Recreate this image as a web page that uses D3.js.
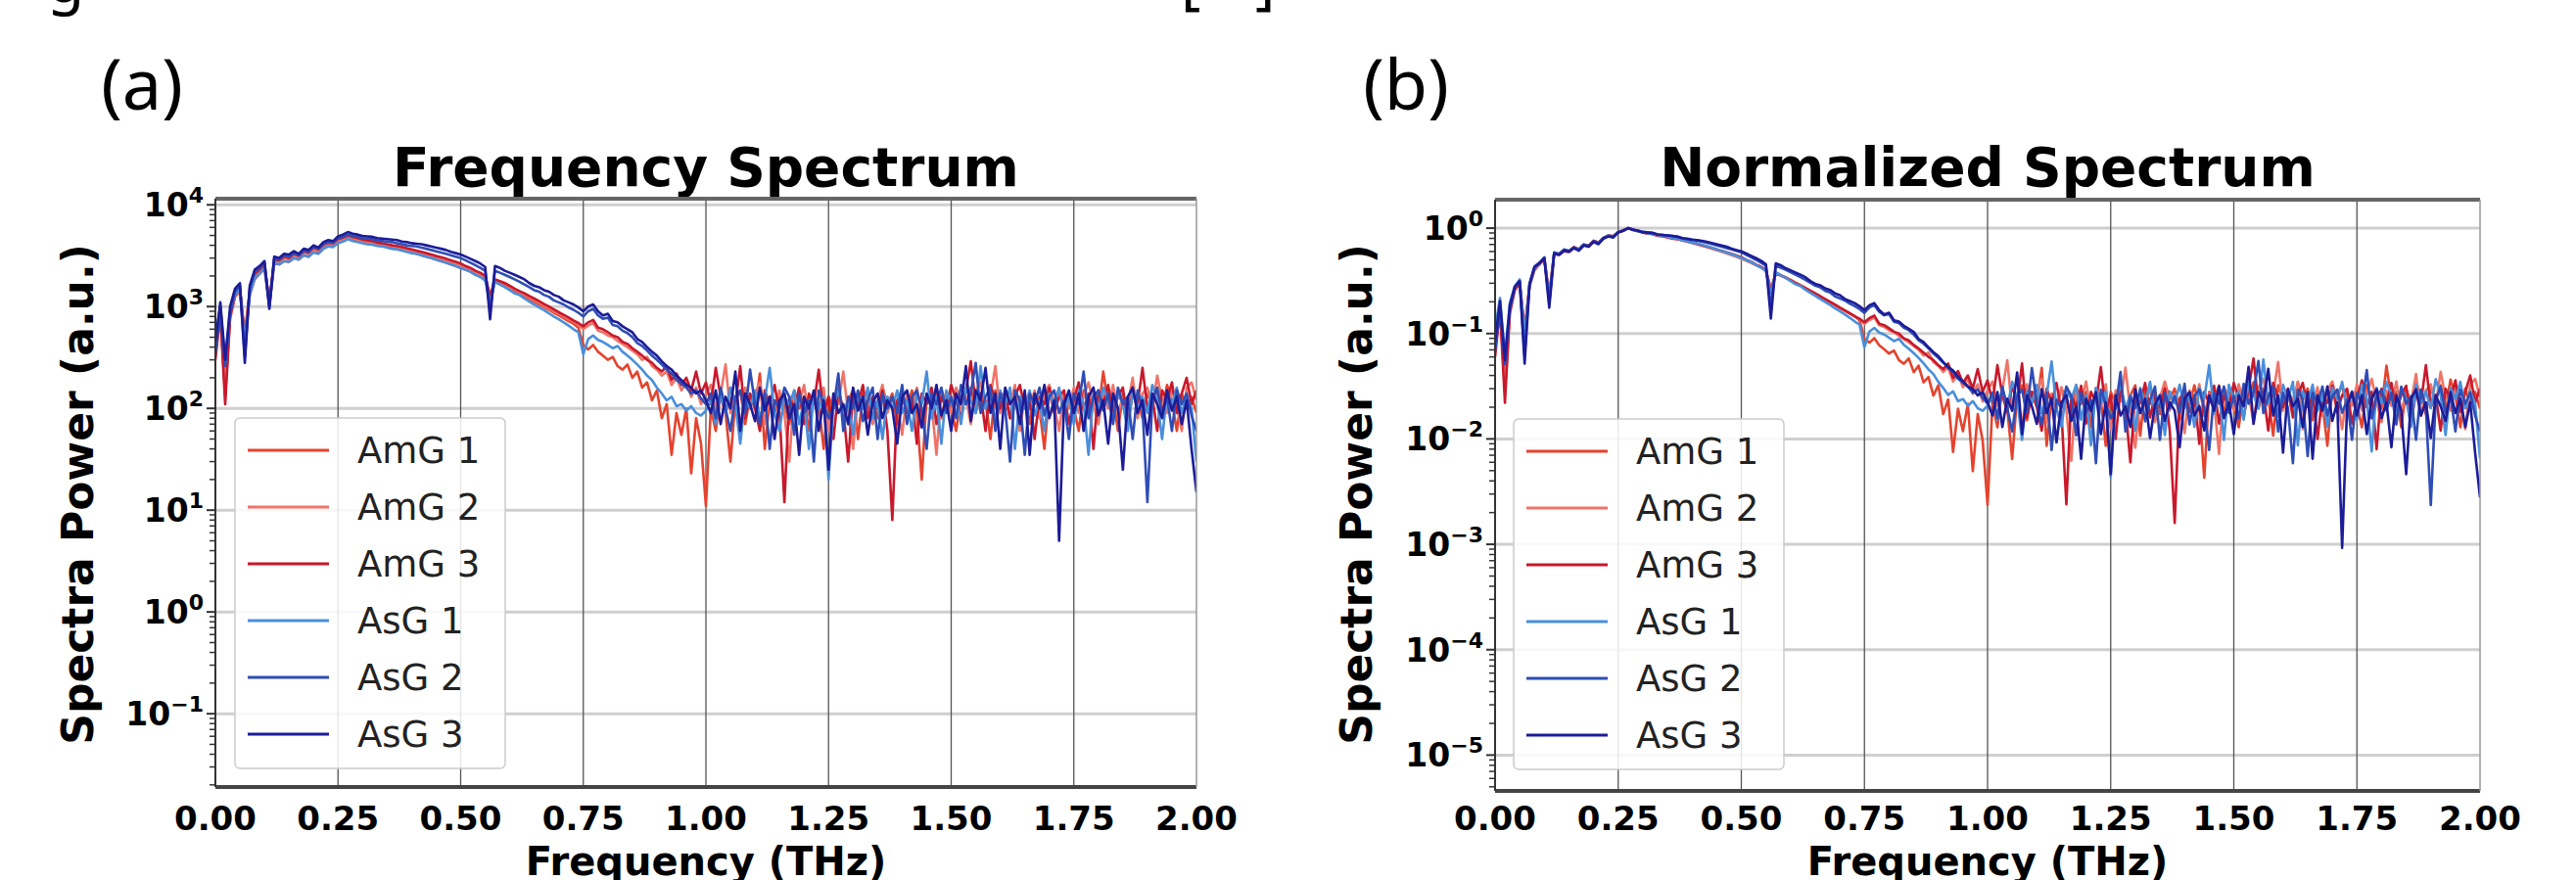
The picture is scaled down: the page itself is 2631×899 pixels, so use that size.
<!DOCTYPE html>
<html>
<head>
<meta charset="utf-8">
<script src="https://cdn.jsdelivr.net/npm/d3@7"></script>
<style>
  body { margin: 0; background: #fff; }
  svg { display: block; font-family: "DejaVu Sans", sans-serif; }
</style>
</head>
<body>
<div id="container"></div>
<script>
// sampling grid (THz)
const freq = [
  0, 0.01, 0.02, 0.03, 0.04, 0.05, 0.06, 0.07, 0.08, 0.09, 0.10,
  0.11, 0.12, 0.13, 0.14, 0.15, 0.16, 0.17, 0.18, 0.19, 0.20,
  0.21, 0.22, 0.23, 0.24, 0.25, 0.26, 0.27, 0.28, 0.29, 0.30,
  0.31, 0.32, 0.33, 0.34, 0.35, 0.36, 0.37, 0.38, 0.39, 0.40,
  0.41, 0.42, 0.43, 0.44, 0.45, 0.46, 0.47, 0.48, 0.49, 0.50,
  0.51, 0.52, 0.53, 0.54, 0.55, 0.56, 0.57, 0.58, 0.59, 0.60,
  0.61, 0.62, 0.63, 0.64, 0.65, 0.66, 0.67, 0.68, 0.69, 0.70,
  0.71, 0.72, 0.73, 0.74, 0.75, 0.76, 0.77, 0.78, 0.79, 0.80,
  0.81, 0.82, 0.83, 0.84, 0.85, 0.86, 0.87, 0.88, 0.89, 0.90,
  0.91, 0.92, 0.93, 0.94, 0.95, 0.96, 0.97, 0.98, 0.99, 1.00,
  1.01, 1.02, 1.03, 1.04, 1.05, 1.06, 1.07, 1.08, 1.09, 1.10,
  1.11, 1.12, 1.13, 1.14, 1.15, 1.16, 1.17, 1.18, 1.19, 1.20,
  1.21, 1.22, 1.23, 1.24, 1.25, 1.26, 1.27, 1.28, 1.29, 1.30,
  1.31, 1.32, 1.33, 1.34, 1.35, 1.36, 1.37, 1.38, 1.39, 1.40,
  1.41, 1.42, 1.43, 1.44, 1.45, 1.46, 1.47, 1.48, 1.49, 1.50,
  1.51, 1.52, 1.53, 1.54, 1.55, 1.56, 1.57, 1.58, 1.59, 1.60,
  1.61, 1.62, 1.63, 1.64, 1.65, 1.66, 1.67, 1.68, 1.69, 1.70,
  1.71, 1.72, 1.73, 1.74, 1.75, 1.76, 1.77, 1.78, 1.79, 1.80,
  1.81, 1.82, 1.83, 1.84, 1.85, 1.86, 1.87, 1.88, 1.89, 1.90,
  1.91, 1.92, 1.93, 1.94, 1.95, 1.96, 1.97, 1.98, 1.99, 2.00
];

// spectra power (a.u.)
const amg1 = [
  400, 900, 130, 850, 1250, 1400, 480, 1300, 1850, 2100, 2350,
  1050, 2650, 2600, 2800, 2750, 3000, 2900, 3200, 3100, 3450,
  3350, 3700, 3950, 3900, 4250, 4400, 4650, 4500, 4350, 4250,
  4150, 4100, 4000, 3950, 3850, 3750, 3700, 3600, 3500, 3400,
  3300, 3200, 3100, 3000, 2900, 2800, 2700, 2600, 2500, 2400,
  2300, 2200, 2080, 1980, 1850, 1200, 1750, 1660, 1580, 1500,
  1420, 1340, 1260, 1190, 1120, 1050, 990, 930, 870, 820,
  770, 720, 680, 620, 420, 380, 420, 360, 330, 300,
  320, 260, 240, 270, 200, 230, 160, 180, 120, 150,
  80, 110, 35, 90, 55, 100, 23, 80, 45, 11,
  100, 60, 140, 90, 30, 120, 150, 70, 130, 100,
  220, 40, 120, 90, 140, 110, 70, 150, 100, 130,
  60, 140, 110, 40, 130, 100, 160, 80, 120, 150,
  50, 140, 100, 130, 80, 160, 110, 140, 70, 120,
  100, 150, 90, 20, 130, 110, 150, 80, 140, 100,
  60, 130, 110, 160, 90, 140, 120, 50, 150, 110,
  130, 80, 160, 110, 140, 70, 130, 100, 40, 140,
  120, 150, 90, 130, 100, 60, 150, 110, 140, 90,
  230, 110, 130, 60, 140, 100, 160, 120, 80, 140,
  110, 150, 90, 170, 120, 60, 140, 100, 130, 90
];
const amg2 = [
  350, 800, 150, 750, 1250, 1450, 550, 1400, 2000, 2200, 2500,
  1150, 2800, 2750, 3000, 2900, 3200, 3050, 3400, 3300, 3650,
  3550, 3900, 4100, 4050, 4450, 4600, 4850, 4700, 4550, 4400,
  4300, 4250, 4100, 4050, 3950, 3850, 3800, 3700, 3600, 3500,
  3400, 3300, 3200, 3100, 3000, 2900, 2800, 2700, 2600, 2500,
  2380, 2270, 2150, 2050, 1900, 1300, 1800, 1720, 1640, 1550,
  1460, 1380, 1300, 1230, 1160, 1090, 1020, 960, 900, 850,
  800, 750, 710, 660, 600, 650, 690, 580, 560, 520,
  500, 460, 430, 400, 370, 340, 300, 320, 260, 240,
  210, 230, 170, 200, 150, 180, 130, 160, 110, 140,
  170, 100, 140, 270, 90, 130, 60, 160, 110, 140,
  180, 70, 130, 100, 150, 90, 30, 140, 110, 170,
  85, 130, 100, 160, 60, 140, 110, 230, 90, 40,
  130, 100, 150, 70, 120, 170, 90, 130, 110, 55,
  140, 100, 160, 80, 130, 110, 35, 150, 120, 90,
  160, 110, 130, 70, 150, 180, 100, 130, 260, 90,
  140, 110, 170, 60, 130, 100, 150, 80, 140, 170,
  110, 60, 140, 100, 160, 90, 130, 180, 110, 70,
  140, 100, 170, 90, 130, 110, 200, 80, 140, 160,
  100, 210, 120, 90, 150, 110, 60, 160, 180, 120
];
const amg3 = [
  300, 850, 110, 800, 1300, 1500, 500, 1450, 2100, 2300, 2600,
  1100, 2900, 2850, 3100, 3000, 3300, 3150, 3500, 3400, 3800,
  3650, 4050, 4250, 4200, 4600, 4750, 5000, 4850, 4700, 4550,
  4450, 4400, 4250, 4200, 4100, 4000, 3950, 3850, 3750, 3650,
  3550, 3450, 3350, 3250, 3150, 3050, 2950, 2850, 2750, 2650,
  2500, 2400, 2250, 2150, 2000, 1250, 1850, 1780, 1700, 1600,
  1500, 1420, 1350, 1270, 1200, 1130, 1060, 1000, 940, 880,
  830, 780, 730, 690, 640, 700, 740, 620, 600, 560,
  520, 500, 450, 430, 390, 360, 330, 300, 280, 250,
  230, 260, 190, 220, 170, 200, 150, 230, 140, 180,
  110, 250, 130, 90, 160, 110, 260, 80, 140, 100,
  60, 150, 110, 170, 90, 12, 130, 100, 160, 70,
  140, 110, 240, 90, 130, 50, 150, 100, 30, 140,
  110, 170, 80, 130, 100, 150, 60, 8, 120, 150,
  90, 130, 45, 140, 110, 160, 70, 130, 100, 170,
  120, 80, 150, 290, 110, 140, 60, 170, 120, 100,
  150, 80, 130, 170, 100, 140, 50, 130, 110, 160,
  90, 130, 150, 70, 120, 180, 100, 140, 40, 150,
  110, 170, 90, 130, 160, 70, 140, 110, 250, 100,
  130, 60, 150, 120, 180, 90, 140, 200, 110, 150
];
const asg1 = [
  500, 1000, 280, 900, 1300, 1500, 450, 1300, 1900, 2100, 2400,
  1000, 2700, 2600, 2800, 2750, 3000, 2900, 3200, 3100, 3400,
  3300, 3700, 3900, 3850, 4200, 4350, 4600, 4400, 4300, 4200,
  4100, 4050, 3950, 3900, 3800, 3700, 3650, 3550, 3450, 3350,
  3300, 3200, 3100, 3000, 2900, 2800, 2700, 2600, 2500, 2400,
  2300, 2200, 2050, 1950, 1800, 1100, 1750, 1650, 1550, 1450,
  1350, 1300, 1200, 1120, 1050, 980, 920, 860, 800, 750,
  700, 650, 600, 560, 340, 480, 520, 470, 450, 420,
  390, 410, 360, 330, 300, 270, 240, 210, 190, 160,
  140, 120, 130, 105, 110, 95, 105, 90, 85, 95,
  120, 70, 140, 90, 160, 110, 45, 130, 100, 150,
  80, 120, 250, 90, 60, 130, 110, 150, 70, 120,
  40, 140, 100, 130, 20, 110, 150, 90, 120, 55,
  140, 100, 160, 80, 120, 50, 130, 100, 150, 90,
  120, 60, 140, 110, 230, 80, 130, 45, 150, 110,
  130, 70, 160, 120, 90, 260, 100, 140, 75, 150,
  110, 160, 40, 130, 100, 150, 85, 120, 60, 140,
  110, 160, 90, 130, 70, 150, 110, 35, 140, 100,
  160, 120, 80, 140, 110, 60, 150, 100, 130, 90,
  170, 120, 50, 140, 110, 160, 90, 130, 100, 30
];
const asg2 = [
  350, 900, 260, 850, 1400, 1600, 320, 1500, 2200, 2400, 2700,
  1000, 3000, 2900, 3200, 3100, 3350, 3200, 3550, 3450, 3850,
  3700, 4100, 4300, 4250, 4700, 4850, 5100, 4950, 4850, 4700,
  4650, 4600, 4450, 4400, 4350, 4300, 4200, 4100, 4000, 3950,
  3900, 3800, 3700, 3600, 3500, 3400, 3300, 3200, 3100, 3000,
  2850, 2700, 2550, 2400, 2250, 900, 2250, 2150, 2050, 1950,
  1850, 1750, 1650, 1550, 1450, 1400, 1300, 1250, 1150, 1100,
  1050, 980, 930, 870, 800, 900, 950, 820, 760, 780,
  660, 640, 580, 550, 500, 440, 410, 370, 330, 300,
  270, 240, 220, 190, 175, 160, 140, 150, 125, 110,
  140, 80, 160, 100, 60, 130, 150, 90, 240, 110,
  70, 140, 40, 120, 100, 160, 130, 55, 140, 90,
  120, 30, 150, 110, 80, 100, 220, 60, 130, 100,
  150, 75, 120, 160, 50, 140, 100, 130, 90, 170,
  70, 130, 150, 100, 40, 140, 110, 160, 90, 130,
  80, 170, 110, 140, 280, 90, 130, 160, 60, 140,
  100, 30, 150, 120, 35, 140, 110, 160, 85, 130,
  150, 90, 120, 50, 140, 110, 230, 80, 130, 150,
  95, 140, 70, 160, 110, 130, 50, 150, 100, 12,
  120, 160, 90, 130, 60, 150, 110, 140, 85, 60
];
const asg3 = [
  450, 1100, 300, 1000, 1500, 1700, 280, 1600, 2300, 2500, 2800,
  950, 3100, 3000, 3300, 3250, 3500, 3300, 3700, 3600, 4000,
  3800, 4300, 4500, 4400, 4900, 5100, 5400, 5200, 5100, 4950,
  4900, 4850, 4700, 4650, 4600, 4550, 4500, 4350, 4300, 4200,
  4150, 4100, 4000, 3900, 3800, 3700, 3600, 3450, 3350, 3250,
  3100, 2950, 2800, 2650, 2450, 750, 2500, 2400, 2250, 2150,
  2050, 1950, 1850, 1700, 1600, 1550, 1450, 1400, 1300, 1250,
  1150, 1100, 1050, 980, 900, 1000, 1050, 900, 820, 850,
  720, 700, 640, 600, 560, 480, 450, 400, 360, 330,
  290, 260, 240, 210, 190, 170, 160, 140, 150, 120,
  90, 150, 70, 130, 100, 230, 60, 140, 110, 75,
  160, 95, 130, 50, 120, 140, 80, 110, 35, 130,
  100, 150, 60, 120, 25, 140, 90, 110, 70, 160,
  95, 130, 55, 115, 140, 80, 120, 100, 45, 130,
  150, 90, 110, 65, 140, 100, 170, 85, 120, 60,
  140, 110, 260, 75, 150, 120, 250, 90, 140, 40,
  160, 110, 130, 70, 150, 35, 140, 100, 170, 80,
  120, 5, 110, 150, 90, 140, 60, 130, 160, 85,
  120, 45, 140, 100, 25, 130, 160, 90, 120, 55,
  140, 110, 80, 150, 95, 130, 70, 120, 40, 15
];

const seriesNames = ["AmG 1", "AmG 2", "AmG 3", "AsG 1", "AsG 2", "AsG 3"];
const seriesValues = [amg1, amg2, amg3, asg1, asg2, asg3];
const xTicks = [0, 0.25, 0.5, 0.75, 1.0, 1.25, 1.5, 1.75, 2.0];
const yExpA = [-1, 0, 1, 2, 3, 4];
const yExpB = [-5, -4, -3, -2, -1, 0];

const colors = ["#e5432e", "#ef7468", "#c8192c", "#4a8fdb", "#2f4db5", "#1c1c98"];

let width = 2631,
    height = 899;

var svg = d3.select("#container").append("svg")
    .attr("width", width)
    .attr("height", height);

// caption fragments cut at top edge
svg.append("text").attr("x", 48).attr("y", 2).attr("font-size", 62).attr("font-family", "Noto Sans").text("g");
svg.append("text").attr("x", 1206).attr("y", 2).attr("font-size", 62).attr("font-family", "Noto Sans").text("[");
svg.append("text").attr("x", 1282).attr("y", 2).attr("font-size", 62).attr("font-family", "Noto Sans").text("]");

const sup = e => (e < 0 ? "\u2212" + Math.abs(e) : "" + e);

function drawPanel(p) {
    var x = d3.scaleLinear().domain([0, 2]).range([p.x0, p.x1]);
    var y = d3.scaleLog().domain([p.yMin, p.yMax]).range([p.y1, p.y0]);

    var g = svg.append("g").attr("class", "panel-" + p.id);

    // panel letter
    g.append("text")
        .attr("x", p.letterX).attr("y", 112)
        .attr("text-anchor", "middle")
        .attr("font-family", "Noto Sans")
        .attr("font-size", 72)
        .text(p.letter);

    // title
    g.append("text")
        .attr("x", (p.x0 + p.x1) / 2).attr("y", 190)
        .attr("text-anchor", "middle")
        .attr("font-weight", "bold")
        .attr("font-size", 55)
        .text(p.title);

    // horizontal grid (decades)
    g.selectAll(".hgrid").data(p.exps).enter().append("line")
        .attr("x1", p.x0).attr("x2", p.x1)
        .attr("y1", d => y(Math.pow(10, d))).attr("y2", d => y(Math.pow(10, d)))
        .attr("stroke", "#cfcfcf").attr("stroke-width", 3);

    // vertical grid
    g.selectAll(".vgrid").data(xTicks.slice(1, -1)).enter().append("line")
        .attr("x1", d => x(d)).attr("x2", d => x(d))
        .attr("y1", p.y0).attr("y2", p.y1)
        .attr("stroke", "#555").attr("stroke-width", 1.3);

    // spectra
    var clipId = "clip-" + p.id;
    g.append("clipPath").attr("id", clipId).append("rect")
        .attr("x", p.x0).attr("y", p.y0).attr("width", p.x1 - p.x0).attr("height", p.y1 - p.y0);

    var line = d3.line()
        .x((d, i) => x(freq[i]))
        .y(d => y(d));

    var lines = g.append("g").attr("clip-path", `url(#${clipId})`);
    seriesValues.forEach((vals, k) => {
        var peak = d3.max(vals);
        var pts = p.norm ? vals.map(v => v / peak) : vals;
        lines.append("path")
            .attr("d", line(pts))
            .attr("fill", "none")
            .attr("stroke", colors[k])
            .attr("stroke-width", 2.6)
            .attr("stroke-linejoin", "round");
    });

    // frame
    g.append("line").attr("x1", p.x0).attr("x2", p.x1).attr("y1", p.y0).attr("y2", p.y0)
        .attr("stroke", "#666").attr("stroke-width", 4);
    g.append("line").attr("x1", p.x0).attr("x2", p.x1).attr("y1", p.y1).attr("y2", p.y1)
        .attr("stroke", "#444").attr("stroke-width", 4);
    g.append("line").attr("x1", p.x1).attr("x2", p.x1).attr("y1", p.y0).attr("y2", p.y1)
        .attr("stroke", "#999").attr("stroke-width", 1.5);
    g.append("line").attr("x1", p.x0).attr("x2", p.x0).attr("y1", p.y0).attr("y2", p.y1)
        .attr("stroke", "#333").attr("stroke-width", 2);

    // minor log ticks
    var minors = [];
    for (var e = -6; e <= 4; e++) {
        for (var m = 2; m <= 9; m++) {
            var v = m * Math.pow(10, e);
            if (v > p.yMin && v < p.yMax) minors.push(v);
        }
    }
    g.selectAll(".minor").data(minors).enter().append("line")
        .attr("x1", p.x0 - 6).attr("x2", p.x0)
        .attr("y1", d => y(d)).attr("y2", d => y(d))
        .attr("stroke", "#333").attr("stroke-width", 1.5);

    // major y ticks
    g.selectAll(".major").data(p.exps).enter().append("line")
        .attr("x1", p.x0 - 9).attr("x2", p.x0)
        .attr("y1", d => y(Math.pow(10, d))).attr("y2", d => y(Math.pow(10, d)))
        .attr("stroke", "#333").attr("stroke-width", 2);

    // x ticks
    g.selectAll(".xtl").data(xTicks).enter().append("text")
        .attr("x", d => x(d)).attr("y", 848)
        .attr("text-anchor", "middle")
        .attr("font-weight", "bold")
        .attr("font-size", 34)
        .text(d => d.toFixed(2));

    // y ticks 10^n
    var yt = g.selectAll(".ytl").data(p.exps).enter().append("text")
        .attr("x", p.x0 - 12).attr("y", d => y(Math.pow(10, d)) + 12)
        .attr("text-anchor", "end")
        .attr("font-weight", "bold")
        .attr("font-size", 33);
    yt.append("tspan").text("10");
    yt.append("tspan").attr("dy", -14).attr("font-size", 22).text(d => sup(d));

    // axis labels
    g.append("text")
        .attr("transform", `translate(${p.yLabelX}, 505) rotate(-90)`)
        .attr("text-anchor", "middle")
        .attr("dy", "0.35em")
        .attr("font-weight", "bold")
        .attr("font-size", 44)
        .text("Spectra Power (a.u.)");

    g.append("text")
        .attr("x", (p.x0 + p.x1) / 2).attr("y", 894)
        .attr("text-anchor", "middle")
        .attr("font-weight", "bold")
        .attr("font-size", 40)
        .text("Frequency (THz)");

    // legend
    var lg = g.append("g").attr("transform", `translate(${p.legendX}, ${p.legendY})`);
    lg.append("rect")
        .attr("width", 276).attr("height", 358).attr("rx", 5)
        .attr("fill", "#fff").attr("fill-opacity", 0.85)
        .attr("stroke", "#ccc").attr("stroke-width", 1.5);
    var items = lg.selectAll(".item").data(seriesNames).enter().append("g")
        .attr("transform", (d, i) => `translate(0, ${33 + i * 58})`);
    items.append("line")
        .attr("x1", 13).attr("x2", 96)
        .attr("stroke", (d, i) => colors[i]).attr("stroke-width", 3);
    items.append("text")
        .attr("x", 125).attr("dy", "0.36em")
        .attr("font-size", 37)
        .attr("fill", "#222")
        .text(d => d);
}

drawPanel({
    id: "a", letter: "(a)", title: "Frequency Spectrum",
    x0: 220, x1: 1222, y0: 203, y1: 804,
    yMin: Math.pow(10, -1.72), yMax: Math.pow(10, 4.06), exps: yExpA, norm: false,
    letterX: 145, yLabelX: 80, legendX: 240, legendY: 427
});
drawPanel({
    id: "b", letter: "(b)", title: "Normalized Spectrum",
    x0: 1527, x1: 2533, y0: 204, y1: 808,
    yMin: Math.pow(10, -5.34), yMax: Math.pow(10, 0.27), exps: yExpB, norm: true,
    letterX: 1436, yLabelX: 1386, legendX: 1546, legendY: 428
});
</script>
</body>
</html>
